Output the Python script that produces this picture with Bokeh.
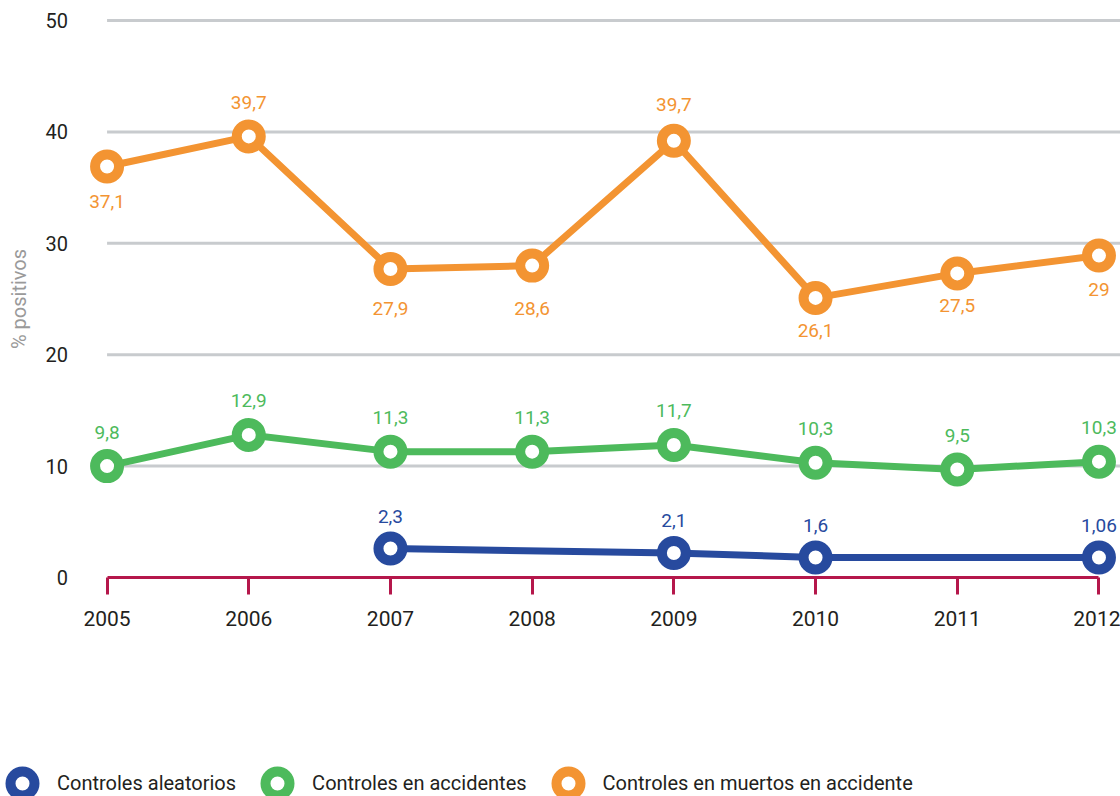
from bokeh.plotting import figure
from bokeh.models import (ColumnDataSource, Range1d, FixedTicker, Legend, LegendItem,
                          LinearAxis)
from bokeh.core.properties import value
from bokeh.embed import file_html
from bokeh.resources import INLINE

# ---------------- data ----------------
years = [2005, 2006, 2007, 2008, 2009, 2010, 2011, 2012]

muertos_values = [36.9, 39.6, 27.7, 28.0, 39.2, 25.1, 27.3, 28.9]
muertos_labels = ["37,1", "39,7", "27,9", "28,6", "39,7", "26,1", "27,5", "29"]

accidentes_values = [10.0, 12.8, 11.3, 11.3, 11.9, 10.3, 9.7, 10.4]
accidentes_labels = ["9,8", "12,9", "11,3", "11,3", "11,7", "10,3", "9,5", "10,3"]

aleatorios_years = [2007, 2009, 2010, 2012]
aleatorios_values = [2.6, 2.2, 1.8, 1.8]
aleatorios_labels = ["2,3", "2,1", "1,6", "1,06"]

y_ticks = [0, 10, 20, 30, 40, 50]
series_names = ["Controles aleatorios", "Controles en accidentes",
                "Controles en muertos en accidente"]
y_title = "% positivos"

# ---------------- style ----------------
FONT = "Roboto"
ORANGE = "#f39432"
GREEN = "#4dba5c"
BLUE = "#274a9e"
RED = "#b5174b"
GRID = "#c8cbce"
TEXT = "#231f20"

# label offsets in screen px (negative = above)
muertos_off = [35, -34, 40, 43, -36, 33, 32, 34]
accidentes_off = [-34] * len(years)
aleatorios_off = [-32] * len(aleatorios_years)

W, H = 1120, 796
x_start, x_end = 2004.248, 2012.152
y_start, y_end = -19.66, 51.80

p = figure(width=W, height=H, output_backend="svg", toolbar_location=None,
           x_range=Range1d(x_start, x_end), y_range=Range1d(y_start, y_end),
           x_axis_type=None, y_axis_type=None,
           min_border_left=0, min_border_right=0, min_border_top=0, min_border_bottom=0)
p.outline_line_color = None
p.background_fill_color = "white"
p.border_fill_color = "white"
p.xgrid.visible = False
p.ygrid.visible = False

# grid lines (from first year to right edge)
grid_vals = [t for t in y_ticks if t > 0]
p.segment(x0=[years[0]] * len(grid_vals), x1=[x_end] * len(grid_vals),
          y0=grid_vals, y1=grid_vals, line_color=GRID, line_width=3)

# y axis
yaxis = LinearAxis(fixed_location=years[0], bounds=(y_ticks[0], y_ticks[-1]),
                   ticker=FixedTicker(ticks=y_ticks))
yaxis.axis_line_color = None
yaxis.major_tick_line_color = None
yaxis.major_tick_out = 0
yaxis.major_tick_in = 0
yaxis.minor_tick_line_color = None
yaxis.minor_tick_out = 0
yaxis.major_label_standoff = 39
yaxis.major_label_text_font = FONT
yaxis.major_label_text_font_size = "20px"
yaxis.major_label_text_color = TEXT
yaxis.axis_label = y_title
yaxis.axis_label_text_font = FONT
yaxis.axis_label_text_font_size = "20px"
yaxis.axis_label_text_font_style = "normal"
yaxis.axis_label_text_color = "#9a9a9a"
yaxis.axis_label_standoff = 12
p.add_layout(yaxis, "left")

# x axis
xaxis = LinearAxis(fixed_location=0, bounds=(years[0], years[-1]),
                   ticker=FixedTicker(ticks=years))
xaxis.axis_line_color = RED
xaxis.axis_line_width = 3
xaxis.major_tick_line_color = RED
xaxis.major_tick_line_width = 3
xaxis.major_tick_out = 17
xaxis.major_tick_in = 0
xaxis.minor_tick_line_color = None
xaxis.major_label_standoff = 16
xaxis.major_label_text_font = FONT
xaxis.major_label_text_font_size = "21px"
xaxis.major_label_text_color = TEXT
p.add_layout(xaxis, "below")


def draw_series(xs, ys, labels, offs, color):
    src = ColumnDataSource(dict(x=xs, y=ys, label=labels, off=offs))
    p.line("x", "y", source=src, line_color=color, line_width=7)
    r = p.scatter("x", "y", source=src, size=24, fill_color="white",
                  line_color=color, line_width=10)
    p.text("x", "y", text="label", source=src, y_offset="off",
           text_align="center", text_baseline="middle",
           text_font=value(FONT), text_font_size="19px", text_color=color)
    return r


r_mu = draw_series(years, muertos_values, muertos_labels, muertos_off, ORANGE)
r_ac = draw_series(years, accidentes_values, accidentes_labels, accidentes_off, GREEN)
r_al = draw_series(aleatorios_years, aleatorios_values, aleatorios_labels, aleatorios_off, BLUE)

legend = Legend(items=[LegendItem(label=series_names[0], renderers=[r_al]),
                       LegendItem(label=series_names[1], renderers=[r_ac]),
                       LegendItem(label=series_names[2], renderers=[r_mu])],
                location=(-8, -17), orientation="horizontal",
                glyph_width=60, glyph_height=60, label_standoff=5, spacing=11,
                padding=0, margin=0, border_line_color=None,
                background_fill_alpha=0,
                label_text_font=FONT, label_text_font_size="20px",
                label_text_color=TEXT)
p.add_layout(legend, "center")

open("out.html", "w").write(file_html(p, INLINE))
